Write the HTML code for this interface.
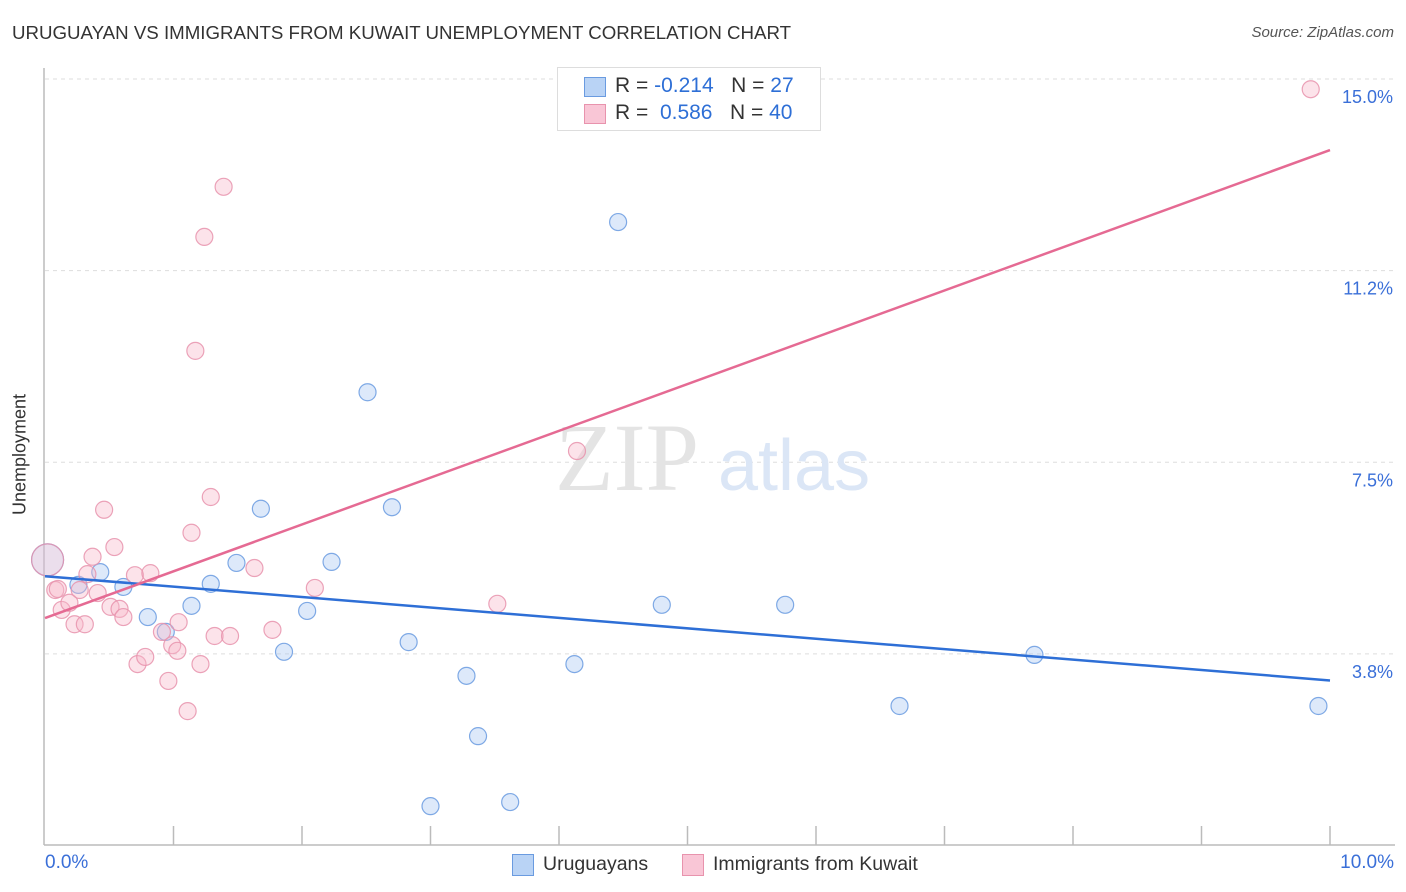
<!DOCTYPE html>
<html><head><meta charset="utf-8">
<style>
body{margin:0;background:#fff;font-family:"Liberation Sans",sans-serif;}
#wrap{position:relative;width:1406px;height:892px;overflow:hidden;}
.t{position:absolute;white-space:nowrap;}
</style></head>
<body>
<div id="wrap">
<div class="t" style="left:12px;top:22px;font-size:18.7px;color:#333;">URUGUAYAN VS IMMIGRANTS FROM KUWAIT UNEMPLOYMENT CORRELATION CHART</div>
<div class="t" style="right:12px;top:24px;font-size:15px;color:#555;font-style:italic;">Source: ZipAtlas.com</div>
<svg id="svg" width="1406" height="892" style="position:absolute;left:0;top:0"></svg>
</div>
<script>
const yTicks=[15.0,11.25,7.5,3.75];
const yTickLabels=["15.0%","11.2%","7.5%","3.8%"];
const xTickCount=10;
const blueX=[0.02,0.26,0.43,0.61,0.80,0.94,1.14,1.29,1.49,1.68,1.86,2.04,2.23,2.51,2.70,2.83,3.00,3.28,3.37,3.62,4.12,4.46,4.80,5.76,6.65,7.70,9.91];
const blueY=[5.59,5.10,5.35,5.06,4.47,4.18,4.69,5.12,5.53,6.59,3.79,4.59,5.55,8.87,6.62,3.98,0.77,3.32,2.14,0.85,3.55,12.20,4.71,4.71,2.73,3.73,2.73];
const pinkX=[0.02,0.08,0.13,0.19,0.23,0.31,0.33,0.37,0.41,0.46,0.51,0.54,0.58,0.61,0.70,0.72,0.78,0.82,0.91,0.96,0.99,1.03,1.04,1.11,1.14,1.17,1.21,1.24,1.29,1.32,1.39,1.44,1.63,1.77,2.10,3.52,4.14,9.85,0.10,0.27];
const pinkY=[5.59,5.00,4.61,4.75,4.33,4.33,5.31,5.65,4.94,6.57,4.67,5.84,4.63,4.47,5.29,3.55,3.69,5.33,4.18,3.22,3.92,3.81,4.37,2.63,6.12,9.68,3.55,11.91,6.82,4.10,12.89,4.10,5.43,4.22,5.04,4.73,7.72,14.80,5.02,5.00];
const blueTrend=[5.27,3.23];
const pinkTrend=[4.45,13.61];
const X=v=>45+v*128.5;
const Y=v=>79+(15-v)*51.1;
const svg=document.getElementById('svg');
const NS='http://www.w3.org/2000/svg';
function mk(tag,attrs){const e=document.createElementNS(NS,tag);for(const k in attrs)e.setAttribute(k,attrs[k]);svg.appendChild(e);return e;}
yTicks.forEach((v,i)=>{
 const g=mk('line',{x1:45,x2:1395,y1:Y(v),y2:Y(v),stroke:'#ddd','stroke-dasharray':'4,4'});
 
 
 const t=mk('text',{x:1393,y:Y(v)+24,'text-anchor':'end','font-size':18,fill:'#3a6fd8','font-family':'Liberation Sans, sans-serif'});
 t.textContent=yTickLabels[i];
 
 
});
const ax=mk('line',{x1:44,x2:44,y1:68,y2:845,stroke:'#bbb','stroke-width':1.5});


const bx=mk('line',{x1:44,x2:1395,y1:845,y2:845,stroke:'#bbb','stroke-width':1.5});


for(let i=1;i<=xTickCount;i++){
 const tk=mk('line',{x1:X(i),x2:X(i),y1:826,y2:845,stroke:'#bbb','stroke-width':1.5});
 
 
}
const wm=mk('text',{x:555,y:490,'font-size':96,fill:'#e4e4e4','font-family':'Liberation Serif, serif'});
wm.textContent='ZIP';


const wm2=mk('text',{x:718,y:490,'font-size':72,fill:'#dbe6f6','font-family':'Liberation Sans, sans-serif'});
wm2.textContent='atlas';


function pts(xs,ys,fill,stroke,name){
 xs.forEach((x,i)=>{
  const big=(i===0);
  const c=mk('circle',{cx:X(x),cy:Y(ys[i]),r:big?16:8.5,fill:fill,stroke:stroke,'stroke-width':1.2,'fill-opacity':big?0.3:0.4,'stroke-opacity':0.85});
  
  
 });
}
pts(blueX,blueY,'#a9c8f2','#6a9be0','point-uruguayan');
pts(pinkX,pinkY,'#f7b8cb','#e893ad','point-kuwait');
const bl=mk('line',{x1:X(0),x2:X(10),y1:Y(blueTrend[0]),y2:Y(blueTrend[1]),stroke:'#2e6fd6','stroke-width':2.5});


const pl=mk('line',{x1:X(0),x2:X(10),y1:Y(pinkTrend[0]),y2:Y(pinkTrend[1]),stroke:'#e56a93','stroke-width':2.5});


</script>
<div class="t" style="left:8px;top:455px;transform:translate(0,-50%) rotate(-90deg);transform-origin:center;font-size:18px;color:#333;width:40px;text-align:center;left:0px;"><span style="display:inline-block;margin-left:-40px;">Unemployment</span></div>
<div class="t" style="left:45px;top:852px;font-size:19px;color:#3a6fd8;">0.0%</div>
<div class="t" style="right:12px;top:852px;font-size:19px;color:#3a6fd8;">10.0%</div>
<div style="position:absolute;left:557px;top:67px;width:262px;height:62px;border:1px solid #ddd;background:#fff;">
 <div style="position:absolute;left:26px;top:9px;width:20px;height:18px;background:#b9d3f5;border:1px solid #6a9be0;"></div>
 <div class="t" style="left:57px;top:6px;font-size:21px;color:#333;">R = <span style="color:#2e6fd6">-0.214</span>&nbsp;&nbsp;&nbsp;N = <span style="color:#2e6fd6">27</span></div>
 <div style="position:absolute;left:26px;top:36px;width:20px;height:18px;background:#f9c6d6;border:1px solid #e893ad;"></div>
 <div class="t" style="left:57px;top:33px;font-size:21px;color:#333;">R = &nbsp;<span style="color:#2e6fd6">0.586</span>&nbsp;&nbsp;&nbsp;N = <span style="color:#2e6fd6">40</span></div>
</div>
<div style="position:absolute;left:512px;top:854px;width:20px;height:20px;background:#b9d3f5;border:1px solid #6a9be0;"></div>
<div class="t" style="left:543px;top:853px;font-size:19.5px;color:#333;">Uruguayans</div>
<div style="position:absolute;left:682px;top:854px;width:20px;height:20px;background:#f9c6d6;border:1px solid #e893ad;"></div>
<div class="t" style="left:713px;top:853px;font-size:19.5px;color:#333;">Immigrants from Kuwait</div>
</body></html>
